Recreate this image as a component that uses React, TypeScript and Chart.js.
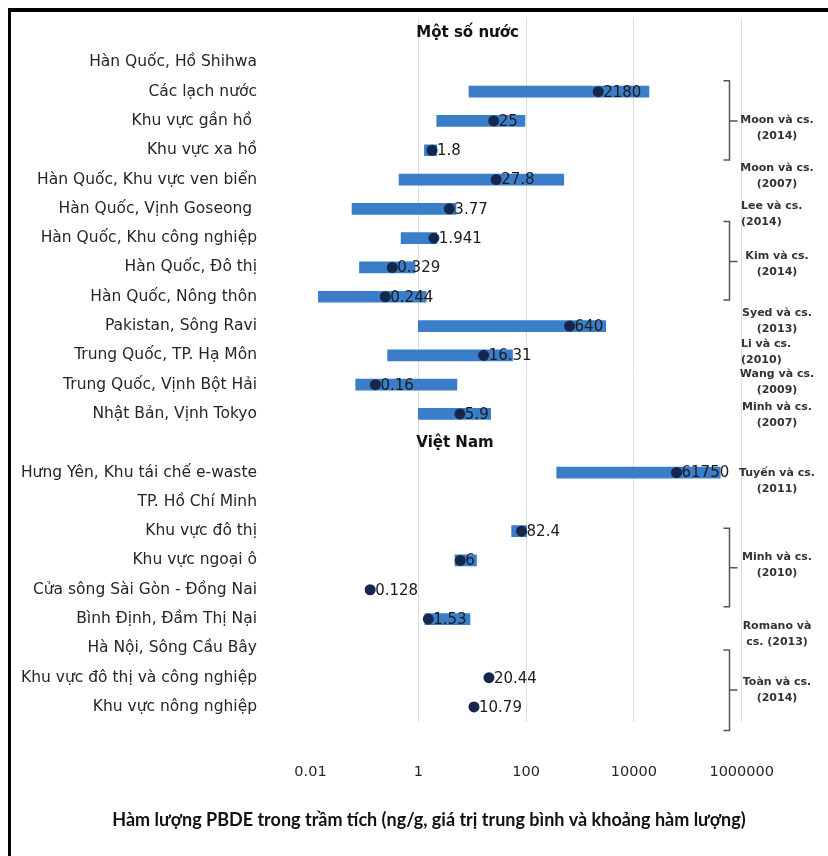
import React, { useEffect, useRef } from "react";
import { Chart, registerables } from "chart.js";

Chart.register(...registerables);

// Sampling sites (rows); empty strings are the group heading rows
const categories = [
  "",
  "Hàn Quốc, Hồ Shihwa",
  "Các lạch nước",
  "Khu vực gần hồ ",
  "Khu vực xa hồ",
  "Hàn Quốc, Khu vực ven biển",
  "Hàn Quốc, Vịnh Goseong ",
  "Hàn Quốc, Khu công nghiệp",
  "Hàn Quốc, Đô thị",
  "Hàn Quốc, Nông thôn",
  "Pakistan, Sông Ravi",
  "Trung Quốc, TP. Hạ Môn",
  "Trung Quốc, Vịnh Bột Hải",
  "Nhật Bản, Vịnh Tokyo",
  "",
  "Hưng Yên, Khu tái chế e-waste",
  "TP. Hồ Chí Minh",
  "Khu vực đô thị",
  "Khu vực ngoại ô",
  "Cửa sông Sài Gòn - Đồng Nai",
  "Bình Định, Đầm Thị Nại",
  "Hà Nội, Sông Cầu Bây",
  "Khu vực đô thị và công nghiệp",
  "Khu vực nông nghiệp",
];

// Concentration range (ng/g): lower and upper ends
const rangeMin = [
  null, null, 8.7, 2.2, 1.3, 0.44, 0.059, 0.48, 0.081, 0.014, 1.0, 0.27, 0.069, 1.0,
  null, 370, null, 54, 4.8, null, 1.33, null, null, null,
];
const rangeMax = [
  null, null, 19000, 95, 2.2, 500, 5, 2.2, 0.87, 1.4, 3000, 56, 5.2, 22,
  null, 400000, null, 102, 12, null, 9.1, null, null, null,
];

// Mean concentration (ng/g)
const meanValues = [
  null, null, 2180, 25, 1.8, 27.8, 3.77, 1.941, 0.329, 0.244, 640, 16.31, 0.16, 5.9,
  null, 61750, null, 82.4, 6, 0.128, 1.53, null, 20.44, 10.79,
];

// Group headings and the rows they sit on
const headingText = ["Một số nước", "Việt Nam"];
const headingRows = [0, 14];

// Log axis ticks
const xTickValues = [0.01, 1, 100, 10000, 1000000];
const xTickLabels = ["0.01", "1", "100", "10000", "1000000"];

const axisTitle =
  "Hàm lượng PBDE trong trầm tích (ng/g, giá trị trung bình và khoảng hàm lượng)";

// Source references shown on the right
const refText = [
  ["Moon và cs.", "(2014)"],
  ["Moon và cs.", "(2007)"],
  ["Lee và cs.", "(2014)"],
  ["Kim và cs.", "(2014)"],
  ["Syed và cs.", "(2013)"],
  ["Li và cs.", "(2010)"],
  ["Wang và cs.", "(2009)"],
  ["Minh và cs.", "(2007)"],
  ["Tuyến và cs.", "(2011)"],
  ["Minh và cs.", "(2010)"],
  ["Romano và", "cs. (2013)"],
  ["Toàn và cs.", "(2014)"],
];
// row position (in category units) of each reference block
const refRow = [3.24, 4.9, 6.18, 7.89, 9.83, 10.89, 11.93, 13.03, 15.31, 18.17, 20.52, 22.44];
const refAlign = ["center", "center", "left", "center", "center", "left", "center", "center", "center", "center", "center", "center"];

// Braces grouping several rows under one reference: top, bottom, middle tick
const braceTop = [1.63, 6.43, 16.9, 21.06];
const braceBottom = [4.33, 9.11, 19.58, 23.8];
const braceMid = [3.0, 7.8, 18.25, 22.42];

const W = 828;
const H = 856;
const FONT = "'DejaVu Sans', Verdana, sans-serif";

const decorations = {
  id: "decorations",
  beforeDraw(chart: any) {
    const { ctx } = chart;
    ctx.save();
    ctx.fillStyle = "#ffffff";
    ctx.fillRect(0, 0, chart.width, chart.height);
    ctx.fillStyle = "#000000";
    ctx.fillRect(8, 8, chart.width - 8, 4);
    ctx.fillRect(8, 8, 3, chart.height - 8);
    ctx.restore();
  },
  afterDatasetsDraw(chart: any) {
    const { ctx } = chart;
    const xs = chart.scales.x;
    const ys = chart.scales.y;
    ctx.save();

    // value labels to the right of each mean marker
    ctx.font = `15px ${FONT}`;
    ctx.textAlign = "left";
    ctx.textBaseline = "middle";
    ctx.fillStyle = "#1c1c1c";
    meanValues.forEach((v, i) => {
      if (v == null) return;
      ctx.fillText(String(v), xs.getPixelForValue(v) + 5, ys.getPixelForValue(i) + 1);
    });

    // group headings
    ctx.font = `bold 15px ${FONT}`;
    ctx.fillStyle = "#111111";
    headingText.forEach((t, k) => {
      ctx.fillText(t, xs.getPixelForValue(1) - 2, ys.getPixelForValue(headingRows[k]));
    });

    // braces
    ctx.strokeStyle = "#555555";
    ctx.lineWidth = 1.5;
    const bx = 729.5;
    braceTop.forEach((t, k) => {
      const y0 = ys.getPixelForValue(t);
      const y1 = ys.getPixelForValue(braceBottom[k]);
      const ym = ys.getPixelForValue(braceMid[k]);
      ctx.beginPath();
      ctx.moveTo(bx - 6, y0);
      ctx.lineTo(bx, y0);
      ctx.lineTo(bx, y1);
      ctx.lineTo(bx - 6, y1);
      ctx.moveTo(bx, ym);
      ctx.lineTo(bx + 8, ym);
      ctx.stroke();
    });

    // references
    ctx.font = `bold 11px ${FONT}`;
    ctx.fillStyle = "#333333";
    refText.forEach((lines, k) => {
      const yc = ys.getPixelForValue(refRow[k]);
      const left = refAlign[k] === "left";
      ctx.textAlign = left ? "left" : "center";
      const x = left ? 741 : 777;
      ctx.fillText(lines[0], x, yc - 8);
      ctx.fillText(lines[1], x, yc + 8);
    });

    // axis title
    ctx.font = `bold 18px Lato, 'Open Sans', sans-serif`;
    ctx.fillStyle = "#111111";
    ctx.textAlign = "center";
    ctx.fillText(axisTitle, 429, 820);

    ctx.restore();
  },
};

export default function App() {
  const ref = useRef<HTMLCanvasElement | null>(null);

  useEffect(() => {
    if (!ref.current) return;
    const ranges = rangeMin.map((lo, i) =>
      lo == null || rangeMax[i] == null ? null : [lo, rangeMax[i]]
    );
    const chart = new Chart(ref.current, {
      type: "bar",
      data: {
        labels: categories,
        datasets: [
          {
            type: "line",
            label: "Trung bình",
            data: meanValues as any,
            indexAxis: "y",
            showLine: false,
            pointRadius: 5.5,
            pointHoverRadius: 5.5,
            pointBackgroundColor: "#17264d",
            pointBorderColor: "#17264d",
            pointBorderWidth: 0,
            order: 1,
          } as any,
          {
            type: "bar",
            label: "Khoảng",
            data: ranges as any,
            backgroundColor: "#3a7dc8",
            barThickness: 11,
            grouped: false,
            order: 2,
          } as any,
        ],
      },
      options: {
        indexAxis: "y",
        responsive: false,
        animation: false,
        events: [],
        layout: { padding: { left: 0, top: 18.4, right: 86.3, bottom: 0 } },
        plugins: {
          legend: { display: false },
          tooltip: { enabled: false },
          title: { display: false },
        },
        scales: {
          x: {
            type: "logarithmic",
            position: "bottom",
            min: 0.01,
            max: 1000000,
            afterBuildTicks: (scale: any) => {
              scale.ticks = xTickValues.map((v) => ({ value: v }));
            },
            afterFit: (scale: any) => {
              scale.height = 134.4;
              scale.paddingLeft = 0;
              scale.paddingRight = 0;
            },
            ticks: {
              autoSkip: false,
              maxRotation: 0,
              padding: 41.5,
              color: "#262626",
              font: { family: FONT, size: 14.5 },
              callback: (value: any) => {
                const idx = xTickValues.indexOf(Number(value));
                return idx >= 0 ? xTickLabels[idx] : "";
              },
            },
            grid: {
              drawTicks: false,
              color: (c: any) =>
                c.tick && c.tick.value === xTickValues[0] ? "rgba(0,0,0,0)" : "#dedede",
              lineWidth: 1,
            },
            border: { display: false },
          },
          y: {
            type: "category",
            offset: true,
            afterFit: (scale: any) => {
              scale.width = 310.5;
              scale.paddingTop = 0;
              scale.paddingBottom = 0;
            },
            ticks: {
              autoSkip: false,
              padding: 53.5,
              color: "#262626",
              font: { family: FONT, size: 15.5 },
            },
            grid: { display: false, drawTicks: false },
            border: { display: false },
          },
        },
      },
      plugins: [decorations],
    } as any);
    return () => chart.destroy();
  }, []);

  return (
    <div style={{ position: "fixed", left: 0, top: 0, width: W, height: H, background: "#fff" }}>
      <canvas ref={ref} width={W} height={H} style={{ display: "block" }} />
    </div>
  );
}
